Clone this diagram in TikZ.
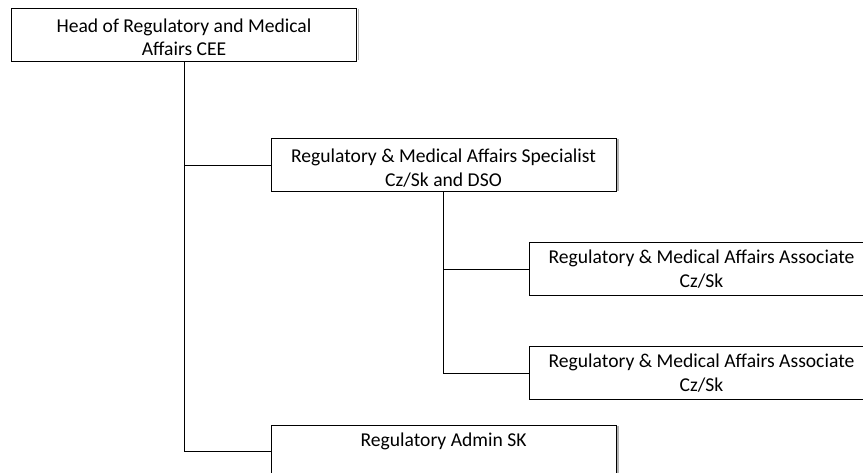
\documentclass[tikz,border=0pt]{standalone}
\usepackage{fontspec}
\setmainfont{Carlito}
\begin{document}
\begin{tikzpicture}[x=1pt,y=-1pt,
  orgbox/.style={draw=black, line width=0.95pt, fill=white, minimum width=345pt,
    minimum height=53pt, inner sep=0pt},
  orgtext/.style={inner sep=0pt, align=center,
    font=\fontsize{19.6}{23.5}\selectfont},
  link/.style={draw=black, line width=0.95pt},
  edgeshade/.style={draw=black!30, line width=1.2pt}]
\useasboundingbox (0,0) rectangle (863,473);

% boxes
\node[orgbox] (head)   at (184,34.5)    {};
\node[orgbox] (spec)   at (443.5,165)   {};
\node[orgbox] (assocA) at (701.5,269)   {};
\node[orgbox] (assocB) at (701.5,373)   {};
\node[orgbox] (admin)  at (443.5,451.5) {};

% titles
\node[orgtext] (headT)   at ([yshift=-3pt]head.center)   {Head of Regulatory and Medical\\Affairs CEE};
\node[orgtext] (specT)   at ([yshift=-3pt]spec.center)   {Regulatory \& Medical Affairs Specialist\\Cz/Sk and DSO};
\node[orgtext] (assocAT) at (assocA.center) {Regulatory \& Medical Affairs Associate\\Cz/Sk};
\node[orgtext] (assocBT) at (assocB.center) {Regulatory \& Medical Affairs Associate\\Cz/Sk};
\node[orgtext] (adminT)  at ([yshift=10pt]admin.center)  {Regulatory Admin SK};

% faint shading along the right side of each box
\foreach \b in {head,spec,assocA,assocB,admin}
  \draw[edgeshade] ([xshift=1.6pt,yshift=-1pt]\b.north east) -- ([xshift=1.6pt,yshift=1.2pt]\b.south east);

% reporting lines
\draw[link] (head.south) |- (spec.west);
\draw[link] (head.south) |- (admin.west);
\draw[link] (spec.south) |- (assocA.west);
\draw[link] (spec.south) |- (assocB.west);
\end{tikzpicture}
\end{document}
